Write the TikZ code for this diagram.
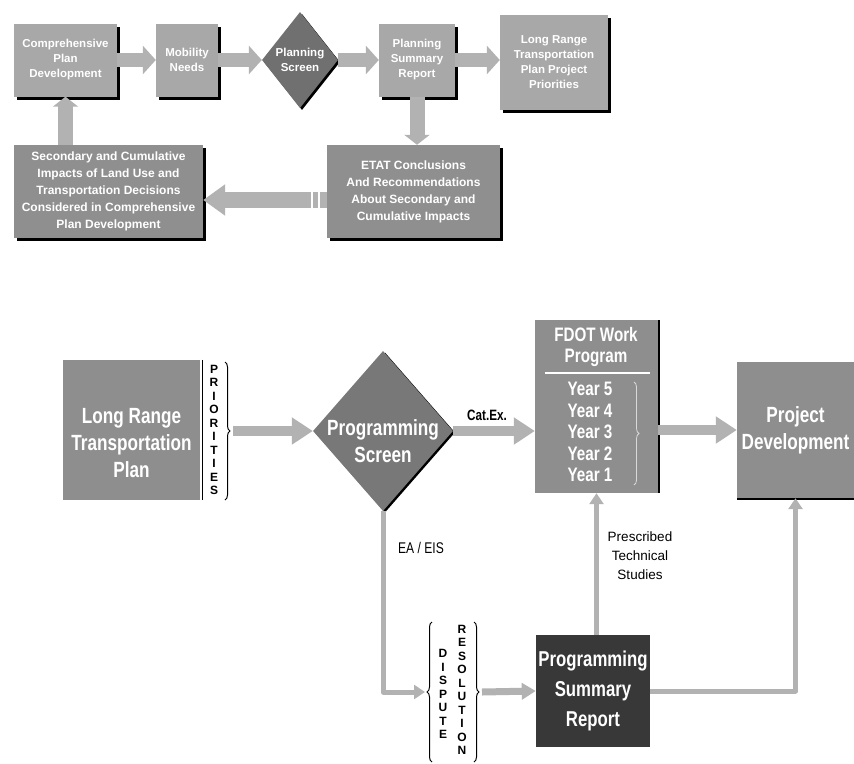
\documentclass[tikz,border=0pt]{standalone}
\usepackage{fontspec}
\setmainfont{Liberation Sans}
\newfontfamily\cond{Liberation Sans}[FakeStretch=0.78]
\usetikzlibrary{shapes.geometric,arrows.meta,decorations.pathreplacing,calc}
\definecolor{topgray}{HTML}{A8A8A8}
\definecolor{midgray}{HTML}{8F8F8F}
\definecolor{botgray}{HTML}{8E8E8E}
\definecolor{diagray}{HTML}{707070}
\definecolor{bdiagray}{HTML}{787878}
\definecolor{darkbox}{HTML}{383838}
\definecolor{arrowgray}{HTML}{B2B2B2}
\begin{document}
\begin{tikzpicture}[x=1pt,y=-1pt,
  shadowed/.style={preaction={fill=black,transform canvas={xshift=3pt,yshift=-3pt}}},
  topbox/.style={rectangle,fill=topgray,inner sep=0pt,text=white,align=center,
    font=\bfseries\fontsize{11.5}{15}\selectfont,shadowed},
  midbox/.style={rectangle,fill=midgray,inner sep=0pt,text=white,align=center,
    font=\bfseries\fontsize{12}{17}\selectfont,shadowed},
  botbox/.style={rectangle,fill=botgray,inner sep=0pt,text=white,align=center,
    font=\cond\bfseries\fontsize{22}{27}\selectfont},
  bigtext/.style={text=white,align=center,inner sep=0pt,font=\cond\bfseries\fontsize{22}{27}\selectfont},
  fdottext/.style={text=white,align=center,inner sep=0pt,font=\cond\bfseries\fontsize{19.5}{21.5}\selectfont},
  toparrow/.style={draw=arrowgray,line width=14pt,-{Triangle[length=13pt,width=28pt]}},
  vertarrow/.style={draw=arrowgray,line width=15pt,-{Triangle[length=10pt,width=25pt]}},
  leftarrow/.style={draw=arrowgray,line width=16pt,-{Triangle[length=22pt,width=30pt]}},
  medarrow/.style={draw=arrowgray,line width=10pt,-{Triangle[length=21pt,width=26pt]}},
  smallarrow/.style={draw=arrowgray,line width=7pt,-{Triangle[length=14pt,width=16pt]}},
  thinarrow/.style={draw=arrowgray,line width=5pt,line join=round,-{Triangle[length=11pt,width=14pt]}},
  letters/.style={inner sep=0pt,align=center,font=\bfseries\fontsize{12}{13.5}\selectfont},
  lbl/.style={inner sep=0pt,align=center,font=\fontsize{13.5}{19}\selectfont},
  bracestyle/.style={decorate,decoration={brace,amplitude=5pt},line width=1pt}
]
\useasboundingbox (0,0) rectangle (854,763);

% ---------------- top part ----------------
\node[topbox,minimum width=103pt,minimum height=73pt] (comp) at (65.5,60) {Comprehensive\\Plan\\Development};
\node[topbox,minimum width=62pt,minimum height=73pt] (mob) at (187,60) {Mobility\\Needs};
\node[diamond,fill=diagray,inner sep=0pt,minimum width=76pt,minimum height=96pt,
  preaction={fill=black,transform canvas={xshift=2pt,yshift=-2pt}},
  label={[text=white,align=center,inner sep=0pt,font=\bfseries\fontsize{11.5}{15}\selectfont]center:Planning\\Screen}] (pscr) at (300,60) {};
\node[topbox,minimum width=76pt,minimum height=73pt] (psr) at (417,60) {Planning\\Summary\\Report};
\node[topbox,minimum width=108pt,minimum height=95pt] (lrtpp) at (554,62.5) {Long Range\\Transportation\\Plan Project\\Priorities};
\node[midbox,minimum width=173pt,minimum height=93pt] (etat) at (413.5,191.5) {ETAT Conclusions\\And Recommendations\\About Secondary and\\Cumulative Impacts};
\node[midbox,minimum width=189pt,minimum height=93pt] (sec) at (108.5,191.5) {Secondary and Cumulative\\Impacts of Land Use and\\Transportation Decisions\\Considered in Comprehensive\\Plan Development};

\draw[toparrow] (comp.east) -- (mob.west);
\draw[toparrow] (mob.east) -- (pscr.west);
\draw[toparrow] (pscr.east) -- (psr.west);
\draw[toparrow] (psr.east) -- (psr.east -| lrtpp.west);
\draw[vertarrow] (psr.south) -- (psr.south |- etat.north);
\draw[leftarrow] ($(etat.west)+(0,8.5)$) -- ($(sec.east)+(0,8.5)$);
\draw[white,line width=1.5pt] ($(etat.west)+(-8,0)$) -- ($(etat.west)+(-8,17)$);
\draw[white,line width=1.5pt] ($(etat.west)+(-15,0)$) -- ($(etat.west)+(-15,17)$);
\draw[vertarrow] (comp.south |- sec.north) -- (comp.south);

% ---------------- bottom part ----------------
\node[botbox,minimum width=137pt,minimum height=140pt,
  label={[bigtext,yshift=-13pt]center:Long Range\\Transportation\\Plan}] (lrtp) at (131.5,430) {};
\draw[line width=1.2pt] ($(lrtp.north east)+(2,0)$) -- ($(lrtp.south east)+(2,0)$);
\node[letters] (prio) at (214,430) {P\\R\\I\\O\\R\\I\\T\\I\\E\\S};
\draw[bracestyle] (225,362) -- (225,500);
\coordinate (prtip) at (233,431);

\node[diamond,fill=bdiagray,inner sep=0pt,minimum width=140pt,minimum height=160pt,
  preaction={fill=black,transform canvas={xshift=2pt,yshift=-1.5pt}},
  label={[bigtext,yshift=-10pt]center:Programming\\Screen}] (prs) at (383,431) {};
\draw[medarrow] (prtip) -- (prs.west);

\node[botbox,minimum width=123pt,minimum height=173pt,
  preaction={fill=black,transform canvas={xshift=2pt}}] (fdot) at (596.5,406.5) {};
\node[fdottext] (fdottitle) at (596,347) {FDOT Work\\Program};
\draw[white,line width=1.5pt] ($(fdot.north west)+(10,53)$) -- ($(fdot.north east)+(-8,53)$);
\node[fdottext] (years) at (590,432) {Year 5\\Year 4\\Year 3\\Year 2\\Year 1};
\draw[bracestyle,draw=white!85!black,line width=0.8pt] (634,382) -- (634,485);

\node[lbl,font=\cond\bfseries\fontsize{15}{17}\selectfont] (catex) at (487,415) {Cat.Ex.};
\draw[medarrow] (prs.east) -- (prs.east -| fdot.west);

\node[botbox,minimum width=117pt,minimum height=136pt,
  preaction={fill=black,transform canvas={yshift=-2pt}}] (pd) at (795.5,430) {Project\\Development};
\draw[medarrow] (pd.west -| fdot.east) -- (pd.west);

\node[rectangle,fill=darkbox,inner sep=0pt,minimum width=114pt,minimum height=112pt,text=white,align=center,
  font=\cond\bfseries\fontsize{21.5}{30}\selectfont] (psum) at (593,691) {Programming\\Summary\\Report};

\node[letters] (disp) at (443,694) {D\\I\\S\\P\\U\\T\\E};
\node[letters] (reso) at (462,690) {R\\E\\S\\O\\L\\U\\T\\I\\O\\N};
\draw[bracestyle] (432,762) -- (432,622);
\draw[bracestyle] (474,622) -- (474,762);
\coordinate (dtipL) at (425,692);
\coordinate (dtipR) at (482,692);

\node[lbl,font=\cond\fontsize{15.5}{17}\selectfont] (eaeis) at (421,548) {EA / EIS};
\draw[thinarrow] (prs.south) |- (dtipL);
\draw[smallarrow] (dtipR) -- (psum.west);

\node[lbl] (pts) at (640,556) {Prescribed\\Technical\\Studies};
\draw[thinarrow] (psum.north -| fdot.south) -- (fdot.south);
\draw[thinarrow] (psum.east) -| (pd.south);
\end{tikzpicture}
\end{document}
